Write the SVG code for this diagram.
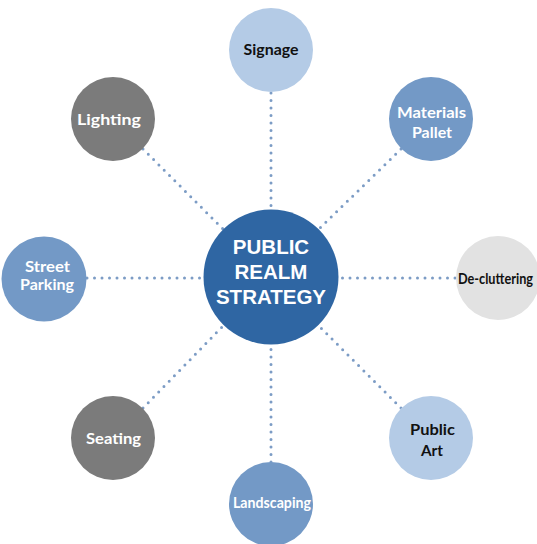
<svg xmlns="http://www.w3.org/2000/svg" width="537" height="544" viewBox="0 0 537 544">
<style>
.link{stroke:#7c9cc5;stroke-width:3;stroke-dasharray:0 7.5;stroke-linecap:round;fill:none}
.lbl{font-family:Lato,"Open Sans","Liberation Sans",sans-serif;font-weight:bold;font-size:15.5px;text-anchor:middle}
.w{fill:#ffffff}
.k{fill:#111111}
.main{font-family:"Liberation Sans",Arial,sans-serif;font-weight:bold;font-size:20.5px;text-anchor:middle;fill:#ffffff}
</style>
<rect width="537" height="544" fill="#ffffff"/>
<g id="connectors">
<line class="link" x1="271" y1="93" x2="271" y2="210"/>
<line class="link" x1="401" y1="149" x2="319" y2="229"/>
<line class="link" x1="455" y1="278" x2="339" y2="278"/>
<line class="link" x1="401" y1="408" x2="319" y2="326"/>
<line class="link" x1="271" y1="462" x2="271" y2="345"/>
<line class="link" x1="143" y1="408" x2="223" y2="326"/>
<line class="link" x1="87" y1="278" x2="203" y2="278"/>
<line class="link" x1="143" y1="149" x2="223" y2="229"/>
</g>
<g id="center">
<circle cx="271" cy="277" r="67.5" fill="#2f66a3"/>
<text class="main" x="271" y="254">PUBLIC</text>
<text class="main" x="271" y="279">REALM</text>
<text class="main" x="271" y="304">STRATEGY</text>
</g>
<g id="signage">
<circle cx="271" cy="50" r="42" fill="#b4cbe6"/>
<text class="lbl k" x="271" y="54.5" textLength="55" lengthAdjust="spacingAndGlyphs">Signage</text>
</g>
<g id="materials">
<circle cx="431" cy="119" r="42" fill="#7399c6"/>
<text class="lbl w" x="431.5" y="117.5" textLength="69" lengthAdjust="spacingAndGlyphs">Materials</text>
<text class="lbl w" x="432" y="138" textLength="40" lengthAdjust="spacingAndGlyphs">Pallet</text>
</g>
<g id="decluttering">
<circle cx="498" cy="278" r="42" fill="#e2e2e2"/>
<text class="lbl k" x="495.5" y="284" textLength="75" lengthAdjust="spacingAndGlyphs">De-cluttering</text>
</g>
<g id="publicart">
<circle cx="431" cy="438" r="42" fill="#b4cbe6"/>
<text class="lbl k" x="432.5" y="435" textLength="45" lengthAdjust="spacingAndGlyphs">Public</text>
<text class="lbl k" x="432" y="455.5" textLength="22" lengthAdjust="spacingAndGlyphs">Art</text>
</g>
<g id="landscaping">
<circle cx="271" cy="504" r="42" fill="#7399c6"/>
<text class="lbl w" x="272" y="508" textLength="78" lengthAdjust="spacingAndGlyphs">Landscaping</text>
</g>
<g id="seating">
<circle cx="113" cy="438" r="42" fill="#7b7b7b"/>
<text class="lbl w" x="113.5" y="444" textLength="55" lengthAdjust="spacingAndGlyphs">Seating</text>
</g>
<g id="streetparking">
<circle cx="44" cy="279" r="42.5" fill="#7399c6"/>
<text class="lbl w" x="47.5" y="272" textLength="45" lengthAdjust="spacingAndGlyphs">Street</text>
<text class="lbl w" x="47" y="290" textLength="54" lengthAdjust="spacingAndGlyphs">Parking</text>
</g>
<g id="lighting">
<circle cx="113" cy="119" r="42" fill="#7b7b7b"/>
<text class="lbl w" x="109" y="125" textLength="64" lengthAdjust="spacingAndGlyphs">Lighting</text>
</g>
</svg>
